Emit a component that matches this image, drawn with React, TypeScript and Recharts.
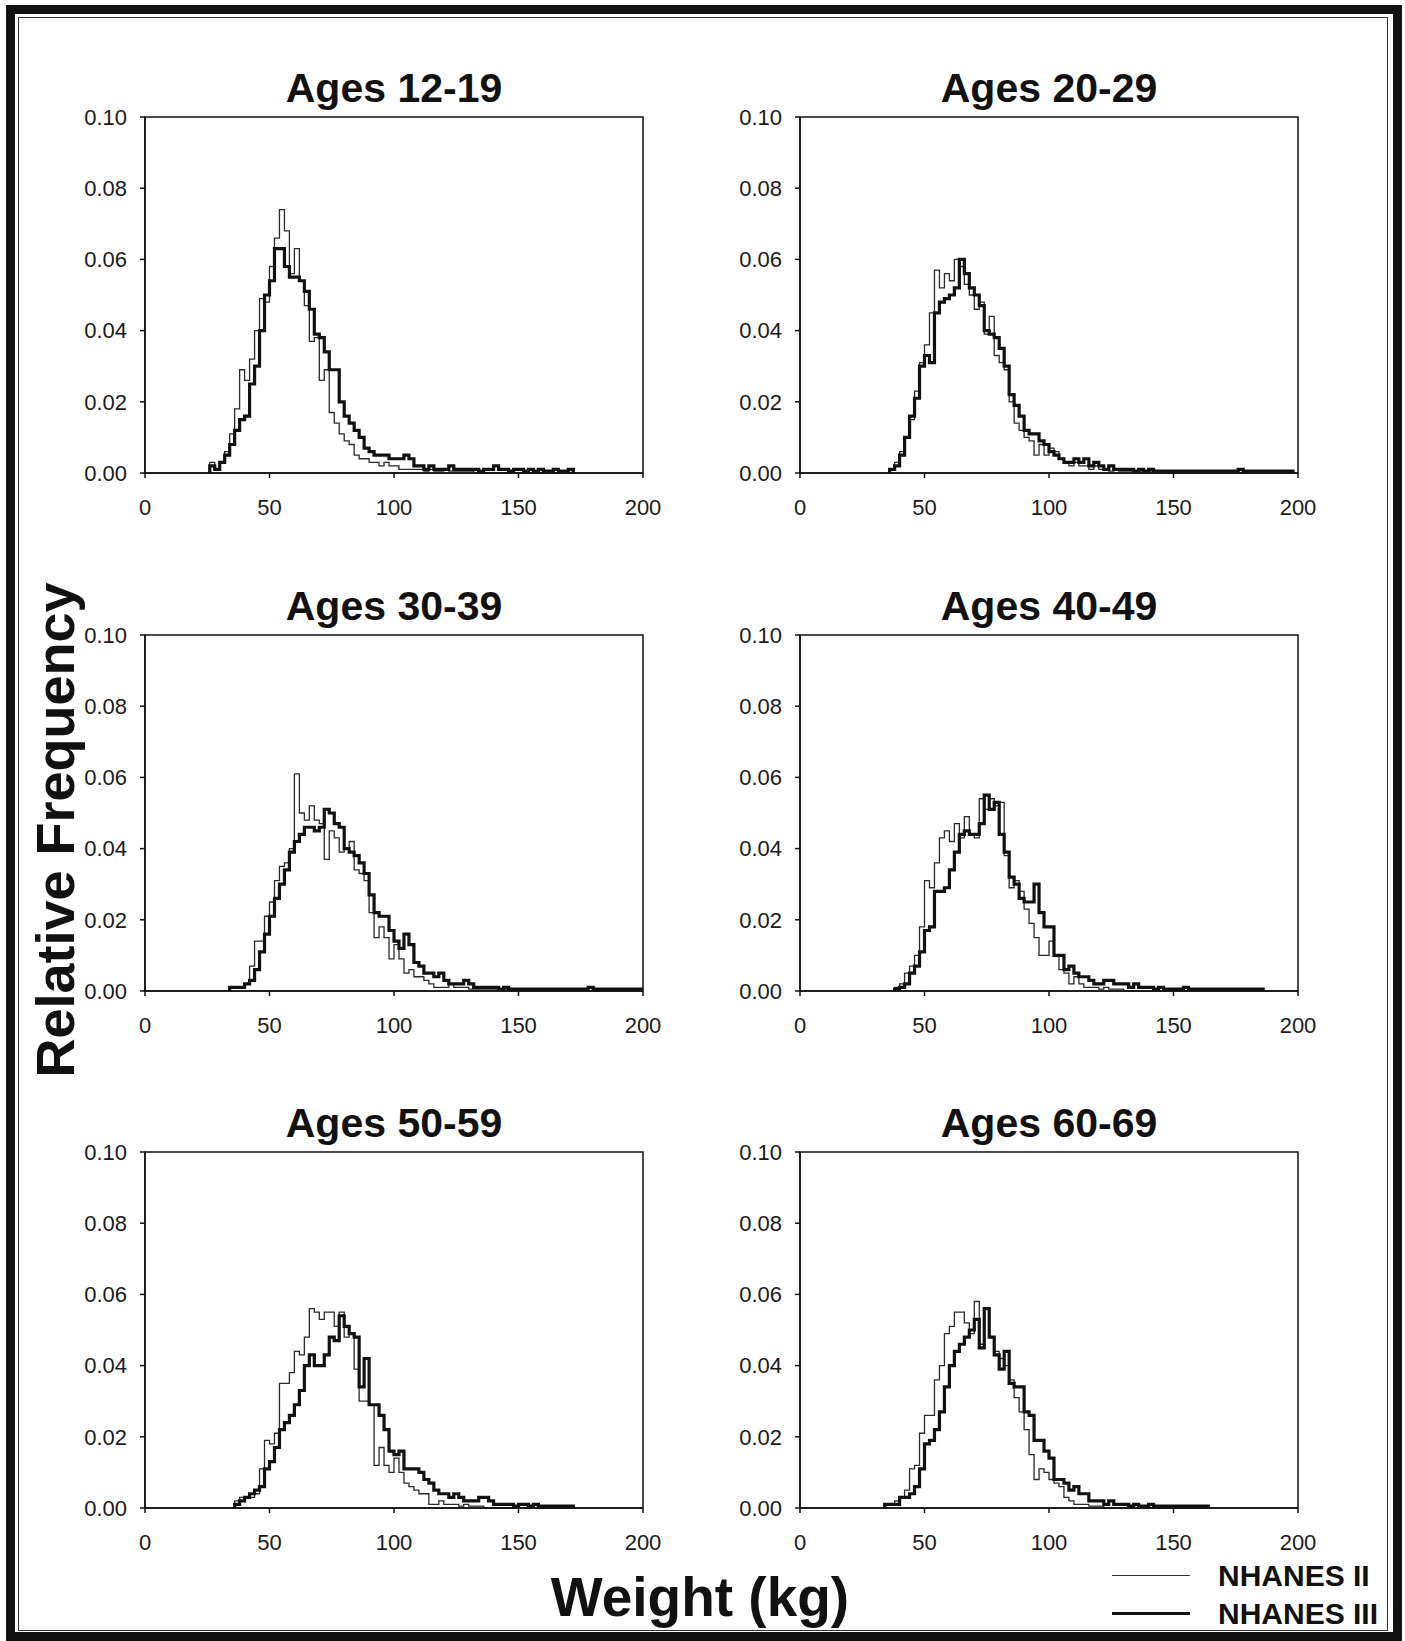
import React from 'react';
import { LineChart, Line, XAxis, YAxis, ReferenceArea } from 'recharts';

// histogram bins are 2 kg wide; each array starts at the panel's first bin
const BIN = 2;
const X_TICKS = [0, 50, 100, 150, 200];
const Y_TICKS = [0, 0.02, 0.04, 0.06, 0.08, 0.1];
const AGE_GROUPS = ['Ages 12-19', 'Ages 20-29', 'Ages 30-39', 'Ages 40-49', 'Ages 50-59', 'Ages 60-69'];
const BIN_STARTS = [26, 36, 34, 38, 36, 34];

const nh2_12_19 = [
  0.003, 0.001, 0.003, 0.006, 0.011, 0.018, 0.029, 0.026, 0.032, 0.040, 0.049, 0.048, 0.058, 0.066, 0.074, 0.068,
  0.056, 0.063, 0.054, 0.047, 0.037, 0.038, 0.026, 0.029, 0.017, 0.014, 0.011, 0.009, 0.008, 0.005, 0.004, 0.004,
  0.003, 0.003, 0.002, 0.003, 0.002, 0.002, 0.001, 0.001, 0.001, 0.001, 0.001, 0.0005, 0.001, 0.0005, 0.0005, 0.001,
  0.0005, 0.0005, 0.0005, 0.0005, 0.0005,
];
const nh3_12_19 = [
  0.002, 0.001, 0.003, 0.005, 0.008, 0.012, 0.015, 0.016, 0.025, 0.030, 0.040, 0.050, 0.054, 0.063, 0.063, 0.058,
  0.055, 0.055, 0.054, 0.051, 0.046, 0.039, 0.038, 0.034, 0.029, 0.029, 0.020, 0.016, 0.014, 0.012, 0.010, 0.007,
  0.006, 0.005, 0.005, 0.005, 0.004, 0.004, 0.004, 0.005, 0.004, 0.002, 0.002, 0.001, 0.002, 0.001, 0.001, 0.001,
  0.002, 0.001, 0.001, 0.001, 0.001, 0.001, 0.0005, 0.001, 0.001, 0.002, 0.001, 0.001, 0.0005, 0.001, 0.001, 0.0005,
  0.001, 0.0005, 0.001, 0.0005, 0.0005, 0.001, 0.0005, 0.0005, 0.001,
];

const nh2_20_29 = [
  0.001, 0.003, 0.006, 0.010, 0.015, 0.023, 0.031, 0.036, 0.045, 0.057, 0.052, 0.056, 0.054, 0.060, 0.058, 0.053,
  0.050, 0.046, 0.048, 0.039, 0.044, 0.033, 0.031, 0.029, 0.020, 0.014, 0.012, 0.010, 0.009, 0.005, 0.008, 0.005,
  0.007, 0.006, 0.004, 0.003, 0.002, 0.003, 0.002, 0.002, 0.001, 0.002, 0.001, 0.001, 0.0005, 0.001, 0.0005, 0.0005,
  0.0005, 0.0005, 0.0005, 0.0005, 0.0005,
];
const nh3_20_29 = [
  0.001, 0.002, 0.005, 0.010, 0.016, 0.021, 0.030, 0.033, 0.031, 0.045, 0.048, 0.049, 0.050, 0.052, 0.060, 0.056,
  0.052, 0.050, 0.047, 0.040, 0.039, 0.038, 0.035, 0.030, 0.022, 0.019, 0.016, 0.012, 0.011, 0.011, 0.009, 0.008,
  0.006, 0.005, 0.004, 0.003, 0.003, 0.004, 0.003, 0.004, 0.002, 0.003, 0.002, 0.001, 0.002, 0.001, 0.001, 0.001,
  0.001, 0.0005, 0.001, 0.0005, 0.001, 0.0005, 0.0005, 0.0005, 0.0005, 0.0005, 0.0005, 0.0005, 0.0005, 0.0005, 0.0005, 0.0005,
  0.0005, 0.0005, 0.0005, 0.0005, 0.0005, 0.0005, 0.001, 0.0005, 0.0005, 0.0005, 0.0005, 0.0005, 0.0005, 0.0005, 0.0005, 0.0005,
  0.0005,
];

const nh2_30_39 = [
  0.001, 0.001, 0.001, 0.002, 0.007, 0.014, 0.014, 0.021, 0.025, 0.031, 0.035, 0.036, 0.040, 0.061, 0.050, 0.048,
  0.052, 0.048, 0.047, 0.037, 0.045, 0.043, 0.039, 0.040, 0.042, 0.034, 0.033, 0.031, 0.022, 0.015, 0.018, 0.015,
  0.009, 0.013, 0.009, 0.005, 0.006, 0.004, 0.004, 0.003, 0.002, 0.001, 0.001, 0.001, 0.002, 0.001, 0.001, 0.001,
  0.0005, 0.0005, 0.0005, 0.0005, 0.0005, 0.0005, 0.0005, 0.0005,
];
const nh3_30_39 = [
  0.001, 0.001, 0.001, 0.002, 0.003, 0.006, 0.011, 0.016, 0.021, 0.026, 0.030, 0.034, 0.039, 0.042, 0.044, 0.046,
  0.046, 0.045, 0.046, 0.051, 0.050, 0.047, 0.046, 0.040, 0.039, 0.038, 0.036, 0.033, 0.027, 0.022, 0.021, 0.021,
  0.017, 0.014, 0.012, 0.016, 0.013, 0.008, 0.007, 0.005, 0.005, 0.004, 0.005, 0.003, 0.002, 0.002, 0.002, 0.003,
  0.002, 0.001, 0.001, 0.001, 0.001, 0.001, 0.0005, 0.001, 0.0005, 0.0005, 0.0005, 0.0005, 0.0005, 0.0005, 0.0005, 0.0005,
  0.0005, 0.0005, 0.0005, 0.0005, 0.0005, 0.0005, 0.0005, 0.0005, 0.001, 0.0005, 0.0005, 0.0005, 0.0005, 0.0005, 0.0005, 0.0005,
  0.0005, 0.0005, 0.0005,
];

const nh2_40_49 = [
  0.001, 0.002, 0.005, 0.007, 0.010, 0.018, 0.031, 0.029, 0.036, 0.043, 0.045, 0.042, 0.047, 0.043, 0.049, 0.044,
  0.043, 0.054, 0.051, 0.054, 0.052, 0.053, 0.038, 0.029, 0.031, 0.028, 0.023, 0.019, 0.015, 0.010, 0.010, 0.014,
  0.010, 0.006, 0.005, 0.002, 0.004, 0.002, 0.001, 0.001, 0.001, 0.0005, 0.001, 0.0005, 0.0005, 0.0005,
];
const nh3_40_49 = [
  0.0005, 0.001, 0.002, 0.005, 0.007, 0.011, 0.017, 0.018, 0.028, 0.028, 0.029, 0.034, 0.039, 0.044, 0.045, 0.044,
  0.044, 0.047, 0.055, 0.051, 0.053, 0.044, 0.039, 0.032, 0.030, 0.026, 0.025, 0.025, 0.030, 0.022, 0.018, 0.018,
  0.010, 0.010, 0.006, 0.007, 0.005, 0.004, 0.004, 0.003, 0.002, 0.002, 0.003, 0.003, 0.002, 0.002, 0.002, 0.001,
  0.002, 0.001, 0.001, 0.001, 0.0005, 0.001, 0.0005, 0.0005, 0.0005, 0.0005, 0.001, 0.0005, 0.0005, 0.0005, 0.0005, 0.0005,
  0.0005, 0.0005, 0.0005, 0.0005, 0.0005, 0.0005, 0.0005, 0.0005, 0.0005, 0.0005,
];

const nh2_50_59 = [
  0.002, 0.003, 0.003, 0.003, 0.004, 0.011, 0.019, 0.018, 0.021, 0.035, 0.035, 0.038, 0.044, 0.043, 0.048, 0.056,
  0.055, 0.053, 0.055, 0.055, 0.051, 0.055, 0.048, 0.049, 0.039, 0.030, 0.030, 0.029, 0.012, 0.017, 0.012, 0.010,
  0.014, 0.010, 0.007, 0.006, 0.005, 0.004, 0.004, 0.001, 0.001, 0.002, 0.001, 0.001, 0.001, 0.0005, 0.001, 0.0005,
  0.0005, 0.0005,
];
const nh3_50_59 = [
  0.001, 0.002, 0.003, 0.004, 0.005, 0.006, 0.011, 0.013, 0.017, 0.022, 0.024, 0.026, 0.029, 0.033, 0.040, 0.043,
  0.040, 0.040, 0.043, 0.048, 0.047, 0.054, 0.051, 0.049, 0.048, 0.034, 0.042, 0.029, 0.029, 0.026, 0.022, 0.016,
  0.015, 0.016, 0.011, 0.011, 0.011, 0.010, 0.008, 0.007, 0.005, 0.004, 0.004, 0.003, 0.004, 0.003, 0.002, 0.002,
  0.002, 0.003, 0.003, 0.002, 0.001, 0.001, 0.001, 0.001, 0.0005, 0.001, 0.001, 0.0005, 0.001, 0.0005, 0.0005, 0.0005,
  0.0005, 0.0005, 0.0005, 0.0005,
];

const nh2_60_69 = [
  0.001, 0.001, 0.002, 0.003, 0.005, 0.011, 0.012, 0.021, 0.026, 0.026, 0.036, 0.040, 0.049, 0.051, 0.055, 0.055,
  0.052, 0.049, 0.058, 0.046, 0.056, 0.048, 0.044, 0.042, 0.040, 0.036, 0.031, 0.027, 0.022, 0.015, 0.008, 0.011,
  0.010, 0.008, 0.007, 0.006, 0.003, 0.002, 0.001, 0.001, 0.001, 0.0005, 0.0005, 0.0005,
];
const nh3_60_69 = [
  0.001, 0.001, 0.001, 0.003, 0.003, 0.004, 0.006, 0.011, 0.018, 0.019, 0.022, 0.027, 0.034, 0.040, 0.044, 0.046,
  0.048, 0.050, 0.053, 0.045, 0.056, 0.048, 0.043, 0.039, 0.044, 0.035, 0.034, 0.034, 0.027, 0.026, 0.019, 0.019,
  0.016, 0.014, 0.008, 0.008, 0.007, 0.005, 0.006, 0.004, 0.004, 0.002, 0.002, 0.002, 0.001, 0.002, 0.001, 0.001,
  0.001, 0.0005, 0.001, 0.0005, 0.0005, 0.001, 0.0005, 0.0005, 0.0005, 0.0005, 0.0005, 0.0005, 0.0005, 0.0005, 0.0005, 0.0005,
  0.0005,
];

const NHANES_II = [nh2_12_19, nh2_20_29, nh2_30_39, nh2_40_49, nh2_50_59, nh2_60_69];
const NHANES_III = [nh3_12_19, nh3_20_29, nh3_30_39, nh3_40_49, nh3_50_59, nh3_60_69];

const FONT = '"Liberation Sans", Arial, Helvetica, sans-serif';

function buildRows(start: number, ii: number[], iii: number[]) {
  const n = Math.max(ii.length, iii.length);
  const rows = [{ kg: start, ii: 0, iii: 0 }];
  for (let i = 0; i < n; i++) {
    rows.push({ kg: start + BIN * i, ii: ii[i] ?? 0, iii: iii[i] ?? 0 });
  }
  rows.push({ kg: start + BIN * n, ii: 0, iii: 0 });
  return rows;
}

const tickStyle = { fill: '#1a1a1a', fontSize: 22, fontFamily: FONT };

const Panel = ({ idx, left, top }: { idx: number; left: number; top: number }) => {
  const data = buildRows(BIN_STARTS[idx], NHANES_II[idx], NHANES_III[idx]);
  const plotLeft = left + 85;
  return (
    <>
      <div
        style={{
          position: 'absolute',
          left: plotLeft,
          width: 498,
          top: top + 15 - 49,
          lineHeight: '40px',
          textAlign: 'center',
          fontFamily: FONT,
          fontWeight: 'bold',
          fontSize: 41,
          color: '#111',
        }}
      >
        {AGE_GROUPS[idx]}
      </div>
      <div style={{ position: 'absolute', left, top }}>
        <LineChart width={603} height={421} data={data} margin={{ top: 15, right: 20, left: 0, bottom: 0 }}>
          <XAxis
            dataKey="kg"
            type="number"
            domain={[0, 200]}
            ticks={X_TICKS}
            allowDataOverflow
            height={50}
            stroke="#111"
            strokeWidth={1.5}
            tickSize={5}
            tickMargin={21}
            tick={tickStyle}
          />
          <YAxis
            type="number"
            domain={[0, 0.1]}
            ticks={Y_TICKS}
            width={85}
            stroke="#111"
            strokeWidth={1.5}
            tickSize={5}
            tickMargin={13}
            tick={tickStyle}
            tickFormatter={(v: number) => v.toFixed(2)}
          />
          <ReferenceArea x1={0} x2={200} y1={0} y2={0.1} fill="none" stroke="#111" strokeWidth={1.5} />
          <Line type="stepAfter" dataKey="ii" stroke="#2a2a2a" strokeWidth={1.3} dot={false} isAnimationActive={false} />
          <Line type="stepAfter" dataKey="iii" stroke="#111" strokeWidth={3.2} dot={false} isAnimationActive={false} />
        </LineChart>
      </div>
    </>
  );
};

const COL_LEFT = [60, 715];
const ROW_TOP = [102, 620, 1137];

export default function App() {
  return (
    <div style={{ position: 'absolute', left: 0, top: 0, width: 1405, height: 1641, background: '#fff', fontFamily: FONT }}>
      <div style={{ position: 'absolute', left: 6, top: 5, width: 1378, height: 1618, border: '9px solid #111' }} />
      <div style={{ position: 'absolute', left: 18, top: 17, width: 1368, height: 1612, border: '1.5px solid #333' }} />
      {AGE_GROUPS.map((_, i) => (
        <Panel key={i} idx={i} left={COL_LEFT[i % 2]} top={ROW_TOP[Math.floor(i / 2)]} />
      ))}
      <div
        style={{
          position: 'absolute',
          left: 55 - 300,
          top: 830 - 30,
          width: 600,
          height: 60,
          lineHeight: '60px',
          textAlign: 'center',
          transform: 'rotate(-90deg)',
          fontWeight: 'bold',
          fontSize: 54,
          color: '#111',
        }}
      >
        Relative Frequency
      </div>
      <div
        style={{
          position: 'absolute',
          left: 400,
          width: 600,
          top: 1597 - 30,
          lineHeight: '60px',
          textAlign: 'center',
          fontWeight: 'bold',
          fontSize: 55,
          color: '#111',
        }}
      >
        Weight (kg)
      </div>
      <div style={{ position: 'absolute', left: 1112, top: 1575, width: 78, borderTop: '1.3px solid #333' }} />
      <div style={{ position: 'absolute', left: 1112, top: 1612, width: 78, borderTop: '3.5px solid #111' }} />
      <div style={{ position: 'absolute', left: 1218, top: 1559, lineHeight: '34px', fontWeight: 'bold', fontSize: 30, color: '#111' }}>
        NHANES II
      </div>
      <div style={{ position: 'absolute', left: 1218, top: 1597, lineHeight: '34px', fontWeight: 'bold', fontSize: 30, color: '#111' }}>
        NHANES III
      </div>
    </div>
  );
}
